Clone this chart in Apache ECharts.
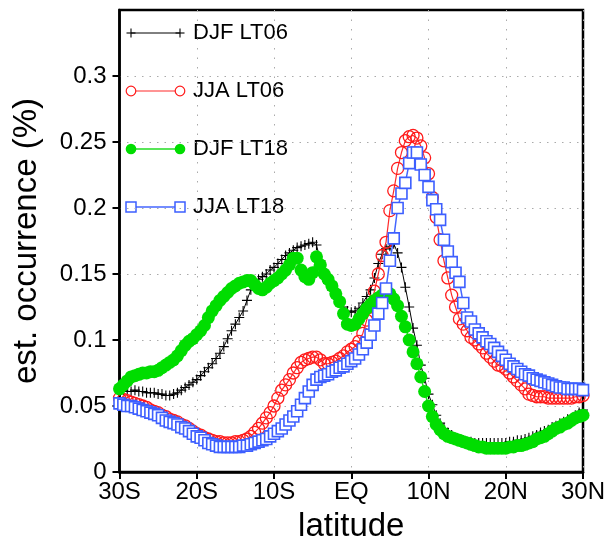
<!DOCTYPE html>
<html><head><meta charset="utf-8">
<script src="https://cdn.jsdelivr.net/npm/echarts@6/dist/echarts.min.js"></script>
<style>html,body{margin:0;padding:0;background:#fff}#c{width:606px;height:542px}</style>
</head><body><div id="c"></div>
<script>
const latitudes = [-30,-29.5,-29,-28.5,-28,-27.5,-27,-26.5,-26,-25.5,-25,-24.5,-24,-23.5,-23,-22.5,-22,-21.5,-21,-20.5,
-20,-19.5,-19,-18.5,-18,-17.5,-17,-16.5,-16,-15.5,-15,-14.5,-14,-13.5,-13,-12.5,-12,-11.5,-11,-10.5,
-10,-9.5,-9,-8.5,-8,-7.5,-7,-6.5,-6,-5.5,-5,-4.5,-4,-3.5,-3,-2.5,-2,-1.5,-1,-0.5,
0,0.5,1,1.5,2,2.5,3,3.5,4,4.5,5,5.5,6,6.5,7,7.5,8,8.5,9,9.5,
10,10.5,11,11.5,12,12.5,13,13.5,14,14.5,15,15.5,16,16.5,17,17.5,18,18.5,19,19.5,
20,20.5,21,21.5,22,22.5,23,23.5,24,24.5,25,25.5,26,26.5,27,27.5,28,28.5,29,29.5,30];

const djfLT06 = [0.062,0.062,0.061,0.061,0.062,0.061,0.061,0.060,0.060,0.060,0.059,0.059,0.058,0.058,0.059,0.060,0.062,0.064,0.066,0.068,
0.070,0.073,0.076,0.079,0.082,0.086,0.090,0.095,0.101,0.107,0.112,0.117,0.122,0.130,0.138,0.143,0.146,0.148,0.150,0.153,
0.155,0.158,0.161,0.164,0.166,0.168,0.170,0.171,0.172,0.173,0.174,0.172,0.160,0.148,0.143,0.138,0.133,0.129,0.125,0.122,
0.121,0.122,0.124,0.128,0.133,0.138,0.147,0.158,0.165,0.169,0.171,0.173,0.166,0.155,0.140,0.125,0.109,0.096,0.081,0.071,
0.059,0.051,0.043,0.037,0.033,0.030,0.028,0.026,0.025,0.024,0.023,0.023,0.022,0.022,0.022,0.022,0.022,0.022,0.022,0.022,
0.022,0.023,0.023,0.024,0.024,0.025,0.026,0.027,0.028,0.030,0.031,0.032,0.034,0.035,0.037,0.038,0.040,0.041,0.043,0.045,0.047];

const jjaLT06 = [0.056,0.055,0.054,0.053,0.052,0.051,0.050,0.049,0.047,0.046,0.045,0.043,0.042,0.040,0.039,0.038,0.036,0.035,0.033,0.031,
0.029,0.028,0.026,0.025,0.024,0.023,0.023,0.022,0.022,0.022,0.023,0.023,0.024,0.025,0.027,0.030,0.033,0.037,0.041,0.045,
0.050,0.056,0.062,0.066,0.070,0.075,0.079,0.083,0.085,0.086,0.087,0.087,0.085,0.082,0.082,0.083,0.084,0.086,0.088,0.091,
0.093,0.095,0.099,0.105,0.115,0.125,0.137,0.150,0.164,0.174,0.198,0.213,0.230,0.242,0.251,0.254,0.255,0.253,0.247,0.238,
0.226,0.208,0.193,0.176,0.160,0.147,0.134,0.125,0.116,0.112,0.107,0.102,0.100,0.097,0.094,0.090,0.087,0.084,0.081,0.080,
0.078,0.075,0.072,0.069,0.066,0.063,0.059,0.058,0.057,0.057,0.057,0.056,0.056,0.056,0.056,0.056,0.056,0.056,0.057,0.057,0.058];

const djfLT18 = [0.063,0.066,0.069,0.072,0.073,0.074,0.075,0.075,0.076,0.076,0.077,0.079,0.081,0.083,0.085,0.088,0.092,0.096,0.099,0.101,
0.104,0.107,0.111,0.117,0.122,0.126,0.130,0.133,0.136,0.139,0.141,0.143,0.144,0.145,0.145,0.142,0.139,0.138,0.140,0.143,
0.145,0.147,0.150,0.153,0.157,0.162,0.162,0.153,0.148,0.146,0.151,0.163,0.157,0.150,0.146,0.141,0.135,0.129,0.120,0.112,
0.111,0.112,0.116,0.120,0.124,0.127,0.130,0.132,0.134,0.135,0.135,0.131,0.126,0.118,0.110,0.100,0.091,0.082,0.072,0.061,
0.050,0.042,0.036,0.032,0.029,0.027,0.026,0.025,0.024,0.023,0.022,0.021,0.020,0.019,0.019,0.018,0.018,0.018,0.018,0.018,
0.018,0.019,0.019,0.020,0.020,0.021,0.022,0.023,0.025,0.026,0.027,0.029,0.031,0.033,0.034,0.036,0.037,0.039,0.041,0.042,0.043];

const jjaLT18 = [0.052,0.051,0.050,0.050,0.049,0.048,0.047,0.046,0.045,0.044,0.043,0.041,0.039,0.038,0.037,0.036,0.034,0.033,0.031,0.029,
0.027,0.026,0.024,0.022,0.021,0.020,0.019,0.019,0.019,0.019,0.019,0.019,0.020,0.020,0.021,0.022,0.023,0.024,0.025,0.027,
0.029,0.031,0.033,0.036,0.039,0.042,0.046,0.051,0.056,0.061,0.066,0.070,0.072,0.073,0.074,0.076,0.077,0.079,0.080,0.082,
0.084,0.086,0.089,0.093,0.098,0.104,0.111,0.120,0.128,0.139,0.160,0.177,0.200,0.211,0.219,0.234,0.242,0.242,0.233,0.225,
0.216,0.206,0.199,0.191,0.176,0.167,0.159,0.151,0.144,0.128,0.117,0.114,0.108,0.105,0.102,0.099,0.097,0.094,0.091,0.088,
0.085,0.082,0.080,0.078,0.076,0.074,0.073,0.071,0.070,0.069,0.068,0.067,0.066,0.065,0.064,0.064,0.063,0.063,0.063,0.063,0.062];

const seriesNames = ['DJF LT06', 'JJA LT06', 'DJF LT18', 'JJA LT18'];
const xTickValues = [-30, -20, -10, 0, 10, 20, 30];
const xTickLabels = ['30S', '20S', '10S', 'EQ', '10N', '20N', '30N'];
const yTickValues = [0, 0.05, 0.1, 0.15, 0.2, 0.25, 0.3];
const yTickLabels = ['0', '0.05', '0.1', '0.15', '0.2', '0.25', '0.3'];

const FONT = '"Liberation Sans", Arial, sans-serif';
const PLUS = 'path://M0,4.45H10V5.55H0Z M4.45,0H5.55V10H4.45Z';
const pairs = arr => latitudes.map((lat, i) => [lat, arr[i]]);

const styles = [
  { symbol: PLUS, size: 10, item: { color: '#000' }, line: { color: '#000', width: 1 } },
  { symbol: 'circle', size: 12, item: { color: 'rgba(255,255,255,0)', borderColor: '#ff1a1a', borderWidth: 1.3 }, line: { color: '#ff2a2a', width: 1.2 } },
  { symbol: 'circle', size: 13, item: { color: '#00dd00', borderWidth: 0 }, line: { color: '#22dd22', width: 1.5 } },
  { symbol: 'rect', size: 11, item: { color: '#ffffff', borderColor: '#3d5fff', borderWidth: 1.6 }, line: { color: '#4466ff', width: 1.5 } }
];
const dataSets = [djfLT06, jjaLT06, djfLT18, jjaLT18];

const series = dataSets.map((d, k) => ({
  name: seriesNames[k],
  type: 'line',
  data: pairs(d),
  symbol: styles[k].symbol,
  symbolSize: styles[k].size,
  showSymbol: true,
  showAllSymbol: true,
  itemStyle: styles[k].item,
  lineStyle: styles[k].line,
  clip: true,
  z: 2 + k
}));

// legend drawn as graphic (line with symbol at each end)
const legendY = [33, 91, 149, 207];
const lx1 = 131, lx2 = 180, ltx = 193;
const legendEls = [];
seriesNames.forEach((name, k) => {
  const y = legendY[k];
  const st = styles[k];
  legendEls.push({ type: 'line', shape: { x1: lx1, y1: y, x2: lx2, y2: y }, style: { stroke: st.line.color, lineWidth: st.line.width } });
  [lx1, lx2].forEach(x => {
    if (k === 0) {
      legendEls.push({ type: 'line', shape: { x1: x - 4.5, y1: y, x2: x + 4.5, y2: y }, style: { stroke: '#000', lineWidth: 1.1 } });
      legendEls.push({ type: 'line', shape: { x1: x, y1: y - 4.5, x2: x, y2: y + 4.5 }, style: { stroke: '#000', lineWidth: 1.1 } });
    } else if (k === 1) {
      legendEls.push({ type: 'circle', shape: { cx: x, cy: y, r: 4.8 }, style: { fill: '#fff', stroke: '#ff1a1a', lineWidth: 1.2 } });
    } else if (k === 2) {
      legendEls.push({ type: 'circle', shape: { cx: x, cy: y, r: 5.3 }, style: { fill: '#00dd00' } });
    } else {
      legendEls.push({ type: 'rect', shape: { x: x - 5, y: y - 5, width: 10, height: 10 }, style: { fill: '#fff', stroke: '#3d5fff', lineWidth: 1.5 } });
    }
  });
  legendEls.push({ type: 'text', x: ltx, y: y, style: { text: name, font: '22px ' + FONT, fill: '#000', textVerticalAlign: 'middle', verticalAlign: 'middle' } });
});

const chart = echarts.init(document.getElementById('c'), null, { renderer: 'canvas' });
chart.setOption({
  animation: false,
  backgroundColor: '#fff',
  grid: { left: 119.5, right: 23, top: 10, bottom: 70, containLabel: false, outerBoundsMode: 'none',
          show: true, borderColor: '#000', borderWidth: 2.5, backgroundColor: 'transparent' },
  xAxis: {
    type: 'value', min: -30, max: 30, interval: 10,
    name: 'latitude', nameLocation: 'middle', nameGap: 38,
    nameTextStyle: { fontFamily: FONT, fontSize: 33, color: '#000' },
    axisLine: { show: true, onZero: false, lineStyle: { color: '#000', width: 2.5 } },
    axisTick: { show: true, inside: false, length: 7, lineStyle: { color: '#000', width: 2 }, customValues: xTickValues },
    axisLabel: {
      fontFamily: FONT, fontSize: 24, color: '#000', margin: 8,
      customValues: xTickValues,
      formatter: v => xTickLabels[xTickValues.indexOf(v)]
    },
    splitLine: { show: true, lineStyle: { color: '#aaa', width: 1, type: [1.5, 8] } }
  },
  yAxis: {
    type: 'value', min: 0, max: 0.35, interval: 0.05,
    name: 'est. occurrence (%)', nameLocation: 'middle', nameGap: 76, nameRotate: 90,
    nameTextStyle: { fontFamily: FONT, fontSize: 33, color: '#000' },
    axisLine: { show: true, onZero: false, lineStyle: { color: '#000', width: 2.5 } },
    axisTick: { show: true, inside: false, length: 7, lineStyle: { color: '#000', width: 2 }, customValues: yTickValues },
    axisLabel: {
      fontFamily: FONT, fontSize: 24, color: '#000', margin: 13,
      customValues: yTickValues,
      formatter: v => yTickLabels[yTickValues.findIndex(t => Math.abs(t - v) < 1e-9)]
    },
    splitLine: { show: true, lineStyle: { color: '#aaa', width: 1, type: [1.5, 6] } }
  },
  graphic: legendEls,
  series: series
});
</script>
</body></html>
